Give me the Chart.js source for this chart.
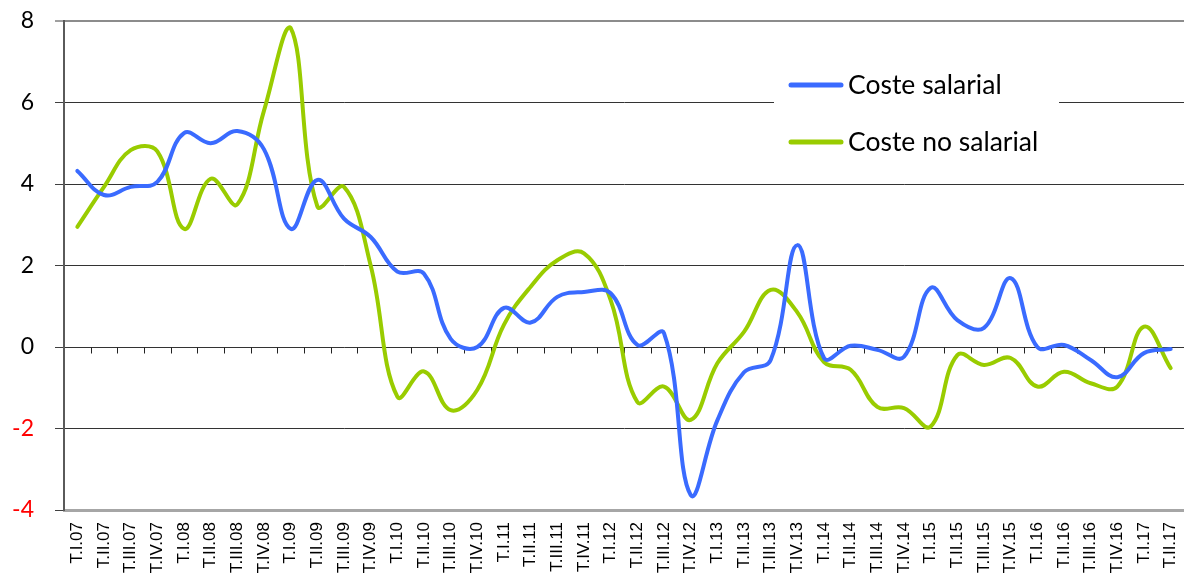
<!DOCTYPE html>
<html>
<head>
<meta charset="utf-8">
<title>Coste salarial y coste no salarial</title>
<script src="https://cdn.jsdelivr.net/npm/chart.js@4.4.1/dist/chart.umd.min.js"></script>
<style>
  html, body { margin: 0; padding: 0; background: #fff; }
  #wrap { width: 1184px; height: 576px; position: relative; }
</style>
</head>
<body>
<div id="wrap"><canvas id="costes"></canvas></div>
<script>
const trimestres = [
  'T.I.07', 'T.II.07', 'T.III.07', 'T.IV.07',
  'T.I.08', 'T.II.08', 'T.III.08', 'T.IV.08',
  'T.I.09', 'T.II.09', 'T.III.09', 'T.IV.09',
  'T.I.10', 'T.II.10', 'T.III.10', 'T.IV.10',
  'T.I.11', 'T.II.11', 'T.III.11', 'T.IV.11',
  'T.I.12', 'T.II.12', 'T.III.12', 'T.IV.12',
  'T.I.13', 'T.II.13', 'T.III.13', 'T.IV.13',
  'T.I.14', 'T.II.14', 'T.III.14', 'T.IV.14',
  'T.I.15', 'T.II.15', 'T.III.15', 'T.IV.15',
  'T.I.16', 'T.II.16', 'T.III.16', 'T.IV.16',
  'T.I.17', 'T.II.17'
];

// tasas de variación anual, %
const costeSalarial = [
  4.32, 3.73, 3.93, 4.05, 5.25, 5.0, 5.3, 4.85, 2.9, 4.1,
  3.15, 2.7, 1.85, 1.8, 0.2, 0.0, 0.96, 0.6, 1.23, 1.35,
  1.32, 0.05, 0.34, -3.63, -1.8, -0.62, -0.32, 2.5, -0.27, 0.03,
  -0.07, -0.24, 1.45, 0.66, 0.47, 1.69, 0.0, 0.05, -0.32, -0.74,
  -0.15, -0.05
];
const costeNoSalarial = [
  2.95, 3.93, 4.83, 4.8, 2.9, 4.13, 3.5, 5.8, 7.83, 3.45,
  3.93, 2.0, -1.22, -0.6, -1.55, -1.05, 0.55, 1.48, 2.13, 2.3,
  1.15, -1.35, -0.97, -1.79, -0.4, 0.37, 1.4, 0.85, -0.37, -0.56,
  -1.47, -1.5, -1.95, -0.2, -0.44, -0.27, -0.97, -0.61, -0.89, -0.97,
  0.5, -0.52
];

const ejeY = [-4, -2, 0, 2, 4, 6, 8];

// marcas pequeñas sobre la línea del cero, entre trimestres
const marcasCero = {
  id: 'marcasCero',
  beforeDatasetsDraw(chart) {
    const { ctx, scales: { x, y } } = chart;
    const y0 = Math.round(y.getPixelForValue(0)) + 0.5;
    ctx.save();
    ctx.strokeStyle = '#222';
    ctx.lineWidth = 1;
    ctx.beginPath();
    for (let i = 1; i < trimestres.length; i++) {
      const px = Math.round((x.getPixelForValue(i - 1) + x.getPixelForValue(i)) / 2) + 0.5;
      ctx.moveTo(px, y0);
      ctx.lineTo(px, y0 + 6);
    }
    ctx.stroke();
    ctx.restore();
  }
};

// leyenda en un recuadro blanco arriba a la derecha
const leyenda = {
  id: 'leyenda',
  afterDatasetsDraw(chart) {
    const ctx = chart.ctx;
    ctx.save();
    ctx.fillStyle = '#fff';
    ctx.fillRect(774, 58, 285, 104);
    ctx.font = '26.5px Lato';
    ctx.textBaseline = 'middle';
    ctx.lineCap = 'round';
    chart.data.datasets.forEach((ds, i) => {
      const yy = 85 + i * 57;
      ctx.strokeStyle = ds.borderColor;
      ctx.lineWidth = 5;
      ctx.beginPath();
      ctx.moveTo(791, yy);
      ctx.lineTo(841, yy);
      ctx.stroke();
      ctx.fillStyle = '#000';
      ctx.fillText(ds.label, 848, yy);
    });
    ctx.restore();
  }
};

new Chart(document.getElementById('costes'), {
  type: 'line',
  data: {
    labels: trimestres,
    datasets: [
      { label: 'Coste salarial', data: costeSalarial, borderColor: '#3a6bff' },
      { label: 'Coste no salarial', data: costeNoSalarial, borderColor: '#99cc00' }
    ]
  },
  options: {
    responsive: true,
    maintainAspectRatio: false,
    animation: false,
    layout: { padding: { top: 21, right: 0, bottom: 0, left: 0 } },
    plugins: { legend: { display: false }, tooltip: { enabled: false } },
    elements: {
      point: { radius: 0 },
      line: { tension: 0.4, borderWidth: 4, borderCapStyle: 'round', borderJoinStyle: 'round' }
    },
    scales: {
      x: {
        offset: true,
        grid: { display: false, drawTicks: false },
        border: { display: true, color: '#a6a6a6', width: 3 },
        ticks: {
          autoSkip: false,
          minRotation: 90,
          maxRotation: 90,
          padding: 12,
          color: '#000',
          font: { family: "'Liberation Sans', Arial, sans-serif", size: 17 }
        },
        afterFit(s) {
          s.height = 66;
          s.paddingLeft = 0;
          s.paddingRight = 0;
        }
      },
      y: {
        min: -4,
        max: 8,
        afterBuildTicks(s) { s.ticks = ejeY.map(v => ({ value: v })); },
        grid: {
          color: c => c.tick.value === 8 ? '#8c8c8c' : (c.tick.value === -4 ? 'rgba(0,0,0,0)' : '#333'),
          lineWidth: c => c.tick.value === 8 ? 2 : 1,
          drawTicks: true,
          tickLength: 9,
          tickColor: '#404040',
          tickWidth: 1
        },
        border: { display: true, color: '#5a5a5a', width: 2 },
        ticks: {
          padding: 21,
          color: c => c.tick.value < 0 ? '#ff0000' : '#000',
          font: { family: 'Lato', size: 23 }
        },
        afterFit(s) {
          s.width = 64;
          s.paddingTop = 0;
          s.paddingBottom = 0;
        }
      }
    }
  },
  plugins: [marcasCero, leyenda]
});
</script>
</body>
</html>
